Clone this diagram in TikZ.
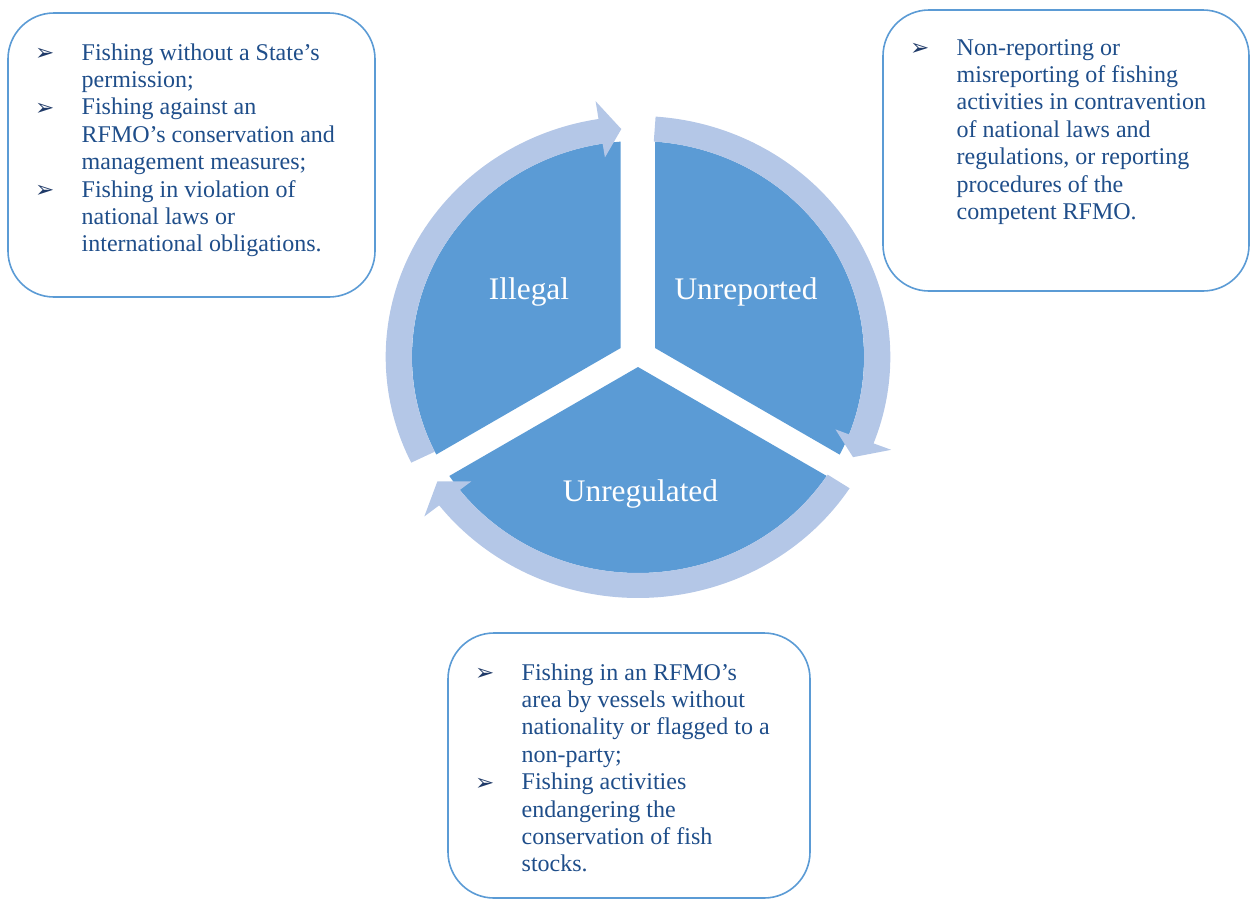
\documentclass[tikz,border=0pt]{standalone}
\usepackage{fontspec}
\setmainfont{Liberation Serif}
\newfontfamily\dejavu{DejaVu Sans}
\definecolor{secblue}{HTML}{5B9BD5}
\definecolor{ringblue}{HTML}{B4C7E7}
\definecolor{txtblue}{HTML}{1F4E8A}
\definecolor{bulblue}{HTML}{1F3A68}
\definecolor{boxline}{HTML}{5B9BD5}
\newcommand{\bul}{\makebox[46.5pt][l]{\raisebox{-0.5pt}{\color{bulblue}\dejavu\fontsize{23}{23}\selectfont ➢}}}
\tikzset{
  infobox/.style={draw=boxline, line width=1.6pt, rounded corners=46pt, rectangle, inner sep=0pt, fill=white},
  txt/.style={text=txtblue, inner sep=0pt, font=\fontsize{24}{27.4}\selectfont, anchor=north west},
  lab/.style={text=white, inner sep=0pt, font=\fontsize{31.4}{36}\selectfont, anchor=base},
  ring/.style={fill=ringblue},
  sector/.style={fill=secblue}
}
\begin{document}
\begin{tikzpicture}[x=1pt, y=-1pt]
\useasboundingbox (0,0) rectangle (1250,900);
% sectors
\begin{scope}
\clip (620.7,348) -- (620.7,0) -- (0,0) -- (0,706.4) -- cycle;
\fill[sector] (638,357) ellipse [x radius=226pt, y radius=216pt];
\end{scope}
\begin{scope}
\clip (655,348) -- (655,0) -- (1250,0) -- (1250,691.5) -- cycle;
\fill[sector] (638,357) ellipse [x radius=226pt, y radius=216pt];
\end{scope}
\begin{scope}
\clip (638,367) -- (0,735.4) -- (0,900) -- (1250,900) -- (1250,720.3) -- cycle;
\fill[sector] (638,357) ellipse [x radius=226pt, y radius=216pt];
\end{scope}
% ring arrows
\begin{scope}[shift={(638,357)}, x=1.047pt, y=1pt]
\fill[ring] plot[domain=206:99, samples=80] (\x:241) -- (99:259) -- (94:228.5) -- (99:202) -- (99:216)
  -- plot[domain=99:206, samples=80] (\x:216) -- cycle;
\fill[ring] plot[domain=86:-21, samples=80] (\x:241) -- (-21:259) -- (-26:228.5) -- (-21:202) -- (-21:216)
  -- plot[domain=-21:86, samples=80] (\x:216) -- cycle;
\fill[ring] plot[domain=-33:-142, samples=80] (\x:241) -- (-142:259) -- (-147:228.5) -- (-142:202) -- (-142:216)
  -- plot[domain=-142:-33, samples=80] (\x:216) -- cycle;
\end{scope}
% labels
\node[lab] (lill) at (529,299) {Illegal};
\node[lab] (lunrep) at (746,299.5) {Unreported};
\node[lab] (lunreg) at (640.5,501) {Unregulated};
% boxes
\node[infobox, minimum width=367pt, minimum height=284pt] (lbox) at (191.5,155) {};
\node[infobox, minimum width=366pt, minimum height=281pt] (rbox) at (1066,150.5) {};
\node[infobox, minimum width=362pt, minimum height=265pt] (bbox) at (629,765.5) {};
% texts
\node[txt] (ltext) at (35,40.8) {\begin{tabular}{@{}l@{}l@{}}
\bul & Fishing without a State’s\\
 & permission;\\
\bul & Fishing against an\\
 & RFMO’s conservation and\\
 & management measures;\\
\bul & Fishing in violation of\\
 & national laws or\\
 & international obligations.
\end{tabular}};
\node[txt] (rtext) at (910,35.8) {\begin{tabular}{@{}l@{}l@{}}
\bul & Non-reporting or\\
 & misreporting of fishing\\
 & activities in contravention\\
 & of national laws and\\
 & regulations, or reporting\\
 & procedures of the\\
 & competent RFMO.
\end{tabular}};
\node[txt] (btext) at (475,660.8) {\begin{tabular}{@{}l@{}l@{}}
\bul & Fishing in an RFMO’s\\
 & area by vessels without\\
 & nationality or flagged to a\\
 & non-party;\\
\bul & Fishing activities\\
 & endangering the\\
 & conservation of fish\\
 & stocks.
\end{tabular}};
\end{tikzpicture}
\end{document}
